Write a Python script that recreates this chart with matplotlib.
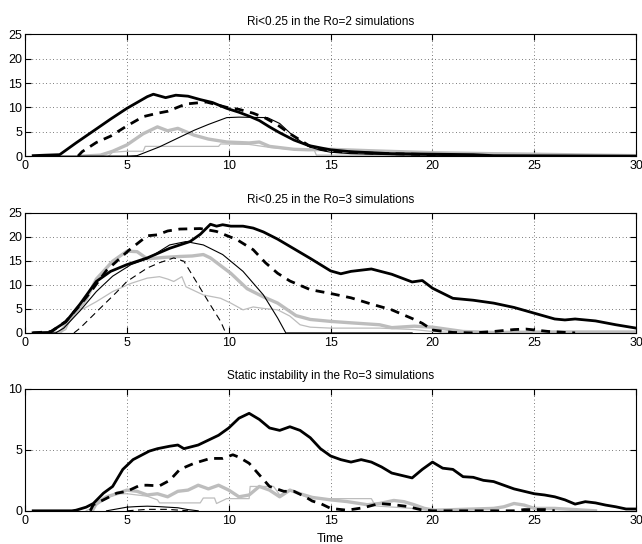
import numpy as np
import matplotlib
matplotlib.use('Agg')
import matplotlib.pyplot as plt

# Dados. ======================================================================

# Painel 1: Ri<0.25, Ro=2.
ro2_thick_t = [0.4, 1.0, 1.7, 2.5, 3.3, 4.2, 5.0, 5.5, 6.0, 6.3, 6.9, 7.4, 8.0, 8.6, 9.2, 9.9, 10.5, 11.0, 11.5, 12.0, 12.5, 13.2, 13.9, 14.5, 15.0, 16.0, 17.0, 18.0, 20.0, 22.0, 23.0, 30.0]
ro2_thick_y = [0.1, 0.2, 0.3, 2.7, 5.0, 7.6, 9.8, 11.0, 12.2, 12.7, 12.0, 12.5, 12.3, 11.6, 11.0, 9.8, 9.0, 8.2, 7.3, 6.0, 4.8, 3.3, 2.2, 1.7, 1.3, 0.9, 0.7, 0.5, 0.4, 0.3, 0.1, 0.0]

ro2_dash_t = [2.6, 2.8, 3.5, 4.2, 5.0, 5.8, 6.5, 7.0, 7.9, 8.9, 9.9, 10.5, 11.2, 11.8, 12.4, 13.0, 13.5, 14.0, 15.0, 17.0, 20.0, 21.0]
ro2_dash_y = [0.0, 0.9, 2.8, 4.1, 6.2, 8.1, 8.8, 9.2, 10.7, 11.1, 10.0, 9.6, 8.8, 7.8, 6.4, 4.6, 3.3, 2.0, 1.0, 0.6, 0.3, 0.0]

ro2_gray_t = [2.8, 3.7, 4.3, 5.0, 5.8, 6.5, 7.0, 7.5, 8.3, 9.0, 9.9, 11.0, 11.5, 12.0, 13.2, 13.9, 15.0, 17.0, 20.0, 23.0, 25.0, 28.0, 30.0]
ro2_gray_y = [0.0, 0.2, 1.0, 2.3, 4.6, 6.0, 5.2, 5.7, 4.3, 3.5, 2.9, 2.7, 2.9, 2.0, 1.4, 1.3, 1.4, 1.1, 0.7, 0.5, 0.4, 0.2, 0.1]

ro2_thin_t = [0.4, 5.0, 5.5, 6.6, 7.5, 8.3, 9.0, 9.9, 10.5, 11.9, 12.5, 13.2, 13.9, 14.5, 15.0, 16.0, 18.0, 20.0, 22.0]
ro2_thin_y = [0.0, 0.0, 0.1, 1.9, 3.7, 5.3, 6.5, 7.9, 8.0, 7.9, 6.7, 4.0, 2.0, 1.2, 0.8, 0.5, 0.3, 0.2, 0.0]

ro2_thgray_t = [4.1, 4.3, 5.0, 5.8, 5.9, 9.5, 9.6, 11.0, 12.0, 13.0, 14.2, 14.3, 16.0, 20.0, 26.0]
ro2_thgray_y = [0.0, 0.8, 1.0, 1.0, 2.0, 2.0, 2.5, 2.4, 1.8, 1.4, 1.2, 0.2, 0.2, 0.1, 0.0]

# Painel 2: Ri<0.25, Ro=3.
ro3_thick_t = [0.4, 1.2, 2.0, 2.7, 3.5, 4.2, 5.0, 6.0, 7.1, 8.1, 8.6, 9.1, 9.4, 9.7, 10.1, 10.7, 11.2, 11.7, 12.4, 13.0, 14.0, 15.0, 15.5, 16.0, 17.0, 18.0, 19.0, 19.5, 20.0, 21.0, 22.0, 23.0, 24.0, 25.0, 26.0, 26.5, 27.0, 28.0, 29.0, 30.0]
ro3_thick_y = [0.0, 0.1, 2.3, 6.0, 10.7, 12.8, 14.2, 15.6, 17.6, 19.0, 20.5, 22.6, 22.2, 22.5, 22.2, 22.2, 21.8, 21.0, 19.5, 18.0, 15.5, 12.9, 12.3, 12.8, 13.3, 12.2, 10.6, 10.9, 9.3, 7.2, 6.8, 6.2, 5.3, 4.1, 2.9, 2.7, 2.9, 2.5, 1.7, 1.0]

ro3_dash_t = [0.4, 1.3, 2.0, 2.7, 3.3, 4.0, 5.1, 6.0, 6.5, 7.0, 7.6, 8.6, 9.4, 10.4, 11.2, 11.8, 12.4, 13.0, 14.0, 15.0, 16.0, 17.0, 18.0, 19.0, 19.5, 20.0, 21.0, 22.0, 23.0, 24.0, 24.6, 25.7, 27.0]
ro3_dash_y = [0.0, 0.3, 2.4, 5.8, 9.0, 13.0, 17.2, 20.2, 20.4, 21.2, 21.6, 21.7, 21.1, 19.4, 17.3, 14.6, 12.4, 10.8, 9.0, 8.2, 7.3, 6.0, 4.8, 3.0, 2.0, 0.6, 0.1, 0.0, 0.3, 0.7, 0.8, 0.3, 0.0]

ro3_gray_t = [0.4, 1.7, 2.4, 3.0, 3.5, 4.3, 5.0, 5.5, 6.0, 6.8, 7.6, 8.2, 8.75, 9.1, 9.6, 10.1, 10.9, 11.7, 12.4, 13.3, 14.0, 15.0, 16.0, 17.4, 18.0, 19.1, 20.0, 21.5, 23.0, 26.0, 30.0]
ro3_gray_y = [0.0, 0.0, 3.8, 7.0, 11.2, 14.9, 17.0, 16.9, 15.4, 15.7, 15.9, 16.0, 16.3, 15.6, 14.0, 12.4, 9.2, 7.5, 6.2, 3.6, 2.8, 2.4, 2.1, 1.7, 1.1, 1.4, 1.2, 0.3, 0.1, 0.2, 0.2]

ro3_thin_t = [0.4, 1.5, 1.9, 2.7, 3.5, 4.3, 5.2, 6.0, 7.1, 7.9, 8.75, 9.7, 10.7, 11.7, 12.4, 12.8, 19.0]
ro3_thin_y = [0.0, 0.0, 1.0, 4.6, 8.6, 11.8, 14.2, 15.4, 18.3, 19.0, 18.3, 16.3, 12.8, 7.9, 3.1, 0.0, 0.0]

ro3_thdash_t = [2.4, 2.7, 3.3, 3.85, 4.5, 5.0, 6.0, 6.6, 7.3, 7.8, 8.4, 9.1, 9.6, 9.85]
ro3_thdash_y = [0.0, 1.0, 3.5, 5.8, 8.5, 10.7, 13.5, 14.6, 15.6, 14.9, 10.7, 5.8, 2.4, 0.0]

ro3_thgray_t = [1.7, 2.0, 2.4, 2.9, 3.5, 4.3, 5.2, 6.0, 6.6, 7.0, 7.3, 7.7, 7.9, 8.75, 9.6, 10.1, 10.7, 11.2, 11.7, 12.4, 13.0, 13.5, 14.0, 15.0, 16.0, 17.4, 19.1, 20.0, 21.0, 30.0]
ro3_thgray_y = [0.0, 0.7, 4.4, 5.1, 6.5, 8.6, 10.3, 11.4, 11.7, 11.2, 10.7, 11.7, 9.6, 7.9, 7.2, 6.2, 4.8, 5.4, 5.1, 4.8, 3.5, 1.7, 1.2, 1.0, 1.0, 1.0, 0.7, 0.3, 0.1, 0.0]

# Painel 3: instabilidade estatica, Ro=3.
st_thick_t = [0.4, 2.3, 2.5, 3.0, 3.35, 3.85, 4.3, 4.8, 5.3, 6.1, 6.5, 7.1, 7.5, 7.8, 8.5, 9.0, 9.5, 10.0, 10.5, 11.0, 11.5, 12.0, 12.5, 13.0, 13.5, 14.0, 14.5, 15.0, 15.5, 16.0, 16.5, 17.0, 17.5, 18.0, 18.5, 19.0, 19.5, 20.0, 20.5, 21.0, 21.5, 22.0, 22.5, 23.0, 23.5, 24.0, 24.5, 25.0, 25.5, 26.0, 26.5, 27.0, 27.5, 28.0, 28.5, 29.0, 29.5, 30.0]
st_thick_y = [0.0, 0.0, 0.05, 0.3, 0.6, 1.45, 2.0, 3.4, 4.2, 4.9, 5.1, 5.3, 5.4, 5.1, 5.4, 5.8, 6.2, 6.8, 7.6, 8.0, 7.5, 6.8, 6.6, 6.9, 6.6, 6.0, 5.1, 4.5, 4.2, 4.0, 4.2, 4.0, 3.6, 3.1, 2.9, 2.7, 3.4, 4.0, 3.5, 3.4, 2.8, 2.75, 2.5, 2.4, 2.1, 1.8, 1.6, 1.4, 1.3, 1.15, 0.9, 0.55, 0.75, 0.65, 0.47, 0.33, 0.15, 0.15]

st_dash_t = [3.2, 3.35, 3.85, 4.5, 5.0, 5.65, 6.0, 6.6, 7.1, 7.6, 8.3, 9.1, 9.7, 10.2, 10.5, 11.0, 11.5, 12.0, 12.7, 13.2, 13.7, 14.1, 14.5, 15.0, 15.8, 16.6, 17.4, 18.1, 18.8, 19.4, 20.0, 24.0, 24.5, 25.5, 26.0]
st_dash_y = [0.0, 0.5, 0.9, 1.45, 1.6, 2.1, 2.1, 2.05, 2.5, 3.4, 3.9, 4.3, 4.3, 4.6, 4.4, 3.9, 2.95, 2.0, 1.6, 1.6, 1.2, 0.8, 0.6, 0.2, 0.05, 0.25, 0.6, 0.5, 0.35, 0.1, 0.0, 0.0, 0.1, 0.1, 0.0]

st_gray_t = [3.3, 3.5, 4.0, 4.5, 5.0, 5.5, 6.0, 6.5, 7.0, 7.5, 8.0, 8.5, 9.0, 9.5, 10.0, 10.5, 11.0, 11.5, 12.0, 12.5, 13.0, 13.5, 14.1, 15.0, 15.8, 16.8, 17.4, 18.1, 18.6, 19.1, 19.6, 20.1, 23.0, 23.5, 24.0, 24.5, 25.0, 26.0, 27.0, 28.0]
st_gray_y = [0.0, 0.6, 1.15, 1.4, 1.7, 1.6, 1.3, 1.4, 1.15, 1.6, 1.7, 2.1, 1.8, 2.1, 1.7, 1.15, 1.3, 2.0, 1.7, 1.15, 1.7, 1.4, 1.1, 0.9, 0.76, 0.5, 0.6, 0.85, 0.75, 0.5, 0.2, 0.05, 0.2, 0.33, 0.6, 0.47, 0.2, 0.2, 0.1, 0.0]

st_thgray_t = [3.0, 3.35, 4.0, 4.5, 5.0, 6.0, 6.5, 6.6, 8.6, 8.75, 9.3, 9.4, 9.9, 11.0, 11.05, 12.2, 12.5, 13.0, 14.0, 17.0, 17.2, 19.0, 20.0]
st_thgray_y = [0.0, 0.3, 1.0, 1.4, 1.4, 1.2, 0.9, 0.65, 0.65, 1.05, 1.05, 0.6, 1.0, 1.0, 2.0, 2.0, 1.3, 1.7, 1.0, 1.0, 0.4, 0.2, 0.0]

st_thin_t = [4.0, 4.5, 5.0, 5.5, 6.0, 6.5, 7.0, 7.5, 8.0, 8.5]
st_thin_y = [0.0, 0.15, 0.3, 0.35, 0.38, 0.35, 0.3, 0.25, 0.1, 0.0]

st_thdash_t = [5.0, 6.0, 7.0, 8.0]
st_thdash_y = [0.0, 0.12, 0.12, 0.0]

titles = ['Ri<0.25 in the Ro=2 simulations',
          'Ri<0.25 in the Ro=3 simulations',
          'Static instability in the Ro=3 simulations']
ymax = [25, 25, 10]
ystep = [5, 5, 5]

# Estilos. ====================================================================

cinza = '#bdbdbd'
thick = dict(color='black', lw=2.0, solid_joinstyle='round')
dash = dict(color='black', lw=2.0, linestyle=(0, (3.2, 2.4)))
gray = dict(color=cinza, lw=2.4, solid_joinstyle='round')
thin = dict(color='black', lw=0.8)
thdash = dict(color='black', lw=0.8, linestyle=(0, (6, 4)))
thgray = dict(color=cinza, lw=0.9)

plt.rcParams['font.family'] = ['Liberation Sans', 'DejaVu Sans']
plt.rcParams['font.size'] = 9

fig = plt.figure(figsize=(6.42, 5.44), dpi=100)
fig.set_facecolor('w')

posicoes = [[0.039, 0.713, 0.952, 0.224],
            [0.039, 0.388, 0.952, 0.221],
            [0.039, 0.061, 0.952, 0.224]]

series = [
    [(ro2_thgray_t, ro2_thgray_y, thgray), (ro2_gray_t, ro2_gray_y, gray),
     (ro2_thin_t, ro2_thin_y, thin), (ro2_dash_t, ro2_dash_y, dash),
     (ro2_thick_t, ro2_thick_y, thick)],
    [(ro3_thgray_t, ro3_thgray_y, thgray), (ro3_gray_t, ro3_gray_y, gray),
     (ro3_thin_t, ro3_thin_y, thin), (ro3_thdash_t, ro3_thdash_y, thdash),
     (ro3_dash_t, ro3_dash_y, dash), (ro3_thick_t, ro3_thick_y, thick)],
    [(st_thgray_t, st_thgray_y, thgray), (st_gray_t, st_gray_y, gray),
     (st_thin_t, st_thin_y, thin), (st_thdash_t, st_thdash_y, thdash),
     (st_dash_t, st_dash_y, dash), (st_thick_t, st_thick_y, thick)],
]

# Plotando os tres paineis. ===================================================

for i in range(3):
    ax = fig.add_axes(posicoes[i])
    for t, y, estilo in series[i]:
        ax.plot(t, y, **estilo)

    ax.set_xlim(0, 30)
    ax.set_ylim(0, ymax[i])
    ax.set_xticks(np.arange(0, 31, 5))
    ax.set_yticks(np.arange(0, ymax[i] + 1, ystep[i]))
    ax.grid(True, color='black', linestyle=(0, (1, 4)), linewidth=0.5)
    ax.tick_params(direction='in', top=True, right=True, length=4,
                   width=0.8, labelsize=9)
    ax.tick_params(axis='x', pad=3)
    ax.tick_params(axis='y', pad=2)
    for s in ax.spines.values():
        s.set_linewidth(0.8)
    ax.set_title(titles[i], fontsize=8.5, pad=7)

ax.set_xlabel('Time', fontsize=9, labelpad=4)

plt.savefig('out.png', dpi=100)
plt.clf()
